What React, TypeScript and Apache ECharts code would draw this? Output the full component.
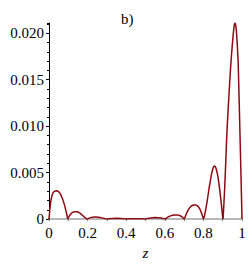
import React, { useEffect, useRef } from "react";
import * as echarts from "echarts";

const zValues: number[] = [
  0, 0.005, 0.01, 0.015, 0.02, 0.025, 0.03, 0.035, 0.04, 0.045, 0.05, 0.055, 0.06, 0.065, 0.07, 0.075, 0.08, 0.085, 0.09, 0.094, 0.097,
  0.1, 0.105, 0.11, 0.115, 0.12, 0.125, 0.13, 0.135, 0.14, 0.145, 0.15, 0.155, 0.16, 0.165, 0.17, 0.175, 0.18, 0.185, 0.19, 0.197,
  0.205, 0.215, 0.225, 0.235, 0.245, 0.255, 0.265, 0.275, 0.285, 0.293, 0.3,
  0.31, 0.33, 0.35, 0.37, 0.39, 0.4,
  0.42, 0.45, 0.48, 0.5,
  0.51, 0.52, 0.535, 0.55, 0.565, 0.58, 0.59, 0.603,
  0.61, 0.62, 0.63, 0.64, 0.65, 0.66, 0.67, 0.68, 0.69, 0.701,
  0.705, 0.71, 0.715, 0.72, 0.725, 0.73, 0.735, 0.74, 0.745, 0.75, 0.755, 0.76, 0.765, 0.77, 0.775, 0.78, 0.785, 0.79, 0.795, 0.8,
  0.805, 0.81, 0.815, 0.82, 0.825, 0.83, 0.835, 0.84, 0.845, 0.85, 0.855, 0.86, 0.865, 0.87, 0.875, 0.88, 0.885, 0.89, 0.895, 0.9, 0.902,
  0.905, 0.91, 0.915, 0.92, 0.925, 0.93, 0.935, 0.94, 0.945, 0.95, 0.955, 0.96, 0.963, 0.966, 0.97, 0.975, 0.98, 0.985, 0.99, 0.995, 1.0,
];

const fValues: number[] = [
  0, 0.0012, 0.002, 0.0025, 0.00279, 0.00293, 0.003, 0.00303, 0.00304, 0.00302, 0.00295, 0.00283, 0.00266, 0.00244, 0.00218, 0.00188, 0.00153, 0.00113, 0.0007, 0.00033, 0,
  0.00015, 0.00033, 0.00048, 0.0006, 0.00069, 0.00075, 0.00079, 0.0008, 0.0008, 0.00079, 0.00076, 0.00071, 0.00064, 0.00056, 0.00047, 0.00038, 0.00028, 0.00018, 0.0001, 0,
  0.00008, 0.00016, 0.0002, 0.00022, 0.00022, 0.00021, 0.00018, 0.00013, 0.00008, 0.00004, 0,
  0.00003, 0.00007, 0.00008, 0.00007, 0.00003, 0,
  0.00003, 0.00005, 0.00003, 0,
  0.00006, 0.0001, 0.00014, 0.00016, 0.00015, 0.00011, 0.00007, 0,
  0.00013, 0.00026, 0.00035, 0.00041, 0.00044, 0.00045, 0.00043, 0.00036, 0.00023, 0,
  0.00022, 0.00048, 0.00072, 0.00093, 0.00111, 0.00125, 0.00136, 0.00144, 0.00149, 0.00152, 0.00153, 0.00152, 0.00148, 0.00141, 0.0013, 0.00114, 0.00093, 0.00066, 0.00035, 0,
  0.0003, 0.0008, 0.0014, 0.002, 0.0027, 0.0034, 0.004, 0.0046, 0.0051, 0.0055, 0.0057, 0.0057, 0.0055, 0.0051, 0.0046, 0.0039, 0.0031, 0.0022, 0.0012, 0.0002, 0,
  0.0012, 0.0032, 0.0057, 0.0085, 0.0106, 0.0125, 0.0143, 0.016, 0.0175, 0.0188, 0.02, 0.0209, 0.0211, 0.021, 0.0205, 0.019, 0.017, 0.013, 0.0088, 0.0045, 0,
];

const yTickLabels: string[] = ["0", "0.005", "0.010", "0.015", "0.020"];
const xTickLabels: string[] = ["0", "0.2", "0.4", "0.6", "0.8", "1"];
const titleText = "b)";
const xName = "z";

export default function App() {
  const ref = useRef<HTMLDivElement>(null);
  useEffect(() => {
    if (!ref.current) return;
    const chart = echarts.init(ref.current, null, { renderer: "svg" });
    const font = "Liberation Serif";
    const data = zValues.map((z, i) => [z, fValues[i]]);
    chart.setOption({
      animation: false,
      title: {
        text: titleText,
        left: 116,
        top: 6,
        textStyle: { fontFamily: font, fontSize: 15, fontWeight: "normal", color: "#000" },
      },
      grid: { left: 49, right: 7, top: 23, bottom: 44 },
      xAxis: {
        type: "value",
        min: 0,
        max: 1,
        interval: 0.1,
        name: xName,
        nameLocation: "middle",
        nameGap: 18,
        nameTextStyle: { fontFamily: font, fontSize: 15, fontStyle: "italic", color: "#000" },
        axisLine: { show: true, onZero: false, lineStyle: { color: "#a0a0a0", width: 1.5 } },
        axisTick: { show: true, length: 2, lineStyle: { color: "#808080" } },
        splitLine: { show: false },
        axisLabel: {
          margin: 6,
          fontFamily: font,
          fontSize: 15,
          color: "#000",
          formatter: (v: number) => {
            const k = Math.round(v * 10);
            if (k % 2 !== 0) return "";
            return xTickLabels[k / 2] ?? "";
          },
        },
      },
      yAxis: [
        {
          type: "value",
          min: 0,
          max: 0.0211,
          interval: 0.005,
          axisLine: { show: true, lineStyle: { color: "#000", width: 1 } },
          axisTick: { show: true, length: 3, lineStyle: { color: "#000" } },
          splitLine: { show: false },
          axisLabel: {
            margin: 5,
            fontFamily: font,
            fontSize: 15,
            color: "#000",
            showMaxLabel: false,
            formatter: (v: number) => {
              const k = Math.round(v / 0.005);
              if (Math.abs(v - k * 0.005) > 1e-7) return "";
              return yTickLabels[k] ?? "";
            },
          },
        },
        {
          type: "value",
          position: "left",
          min: 0,
          max: 0.0211,
          interval: 0.001,
          axisLine: { show: false },
          axisTick: { show: true, length: 2, lineStyle: { color: "#000" } },
          splitLine: { show: false },
          axisLabel: { show: false },
        },
      ],
      series: [
        {
          type: "line",
          data,
          yAxisIndex: 0,
          showSymbol: false,
          smooth: false,
          lineStyle: { color: "#8c0a14", width: 1.5 },
          z: 5,
        },
      ],
    });
    return () => chart.dispose();
  }, []);
  return <div ref={ref} style={{ position: "absolute", left: 0, top: 0, width: 249, height: 265 }} />;
}
